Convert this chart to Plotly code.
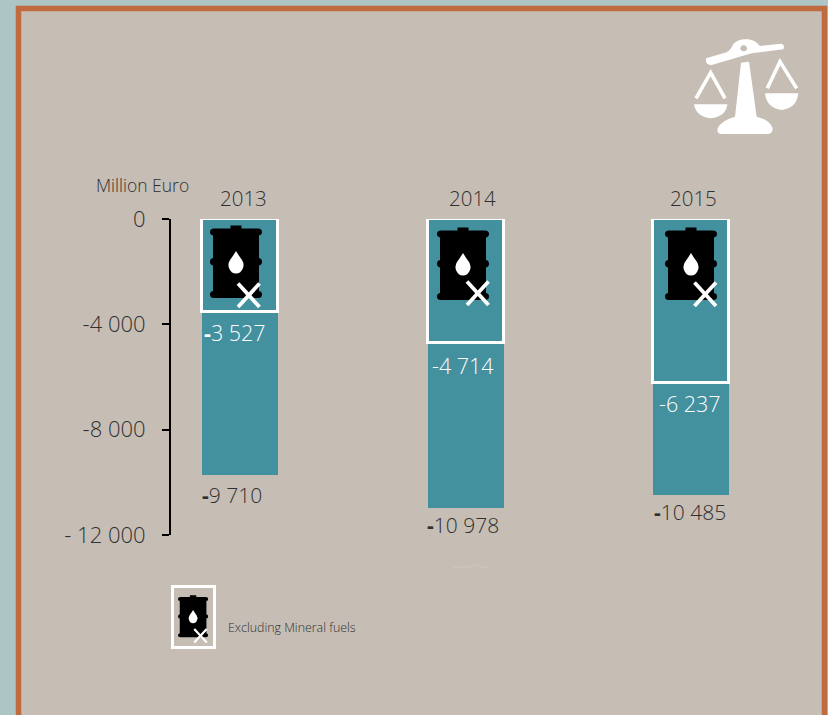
import plotly.graph_objects as go

# ---- data ----
years = ["2013", "2014", "2015"]
total_values = [-9710, -10978, -10485]
excl_mineral_values = [-3527, -4714, -6237]
total_labels = ["<b>-</b>9 710", "<b>-</b>10 978", "<b>-</b>10 485"]
excl_labels = ["<b>-</b>3 527", "-4 714", "-6 237"]
tick_values = [0, -4000, -8000, -12000]
tick_labels = ["0", "-4 000", "-8 000", "- 12 000"]
axis_title = "Million Euro"
legend_text = "Excluding Mineral fuels"

# ---- styling ----
W, H = 828, 715
L, R, T, B = 171, 828, 219, 535
TEAL = "#43909F"
BG = "#C6BEB5"
OUTER = "#AEC5C5"
ORANGE = "#BF6B3F"
INK = "#303030"
FONT = "Open Sans"


def px(x):
    return (x - L) / (R - L)


def py(y):
    return (B - y) / (B - T)


def path(cmds):
    """cmds: list of (letter, x, y, ...) in pixel coordinates -> paper path"""
    out = []
    for c in cmds:
        if len(c) == 1:
            out.append(c[0])
        else:
            pts = c[1:]
            vals = [f"{px(pts[i]):.5f},{py(pts[i + 1]):.5f}" for i in range(0, len(pts), 2)]
            out.append(c[0] + " ".join(vals))
    return " ".join(out)


shapes = []


def add_path(cmds, fill=None, line=None, lw=0, layer="above"):
    shapes.append(dict(type="path", xref="paper", yref="paper", path=path(cmds),
                       fillcolor=fill or "rgba(0,0,0,0)",
                       line=dict(color=line or "rgba(0,0,0,0)", width=lw), layer=layer))


def rect(x0, y0, x1, y1, fill=None, line=None, lw=0, layer="above"):
    add_path([("M", x0, y0), ("L", x1, y0), ("L", x1, y1), ("L", x0, y1), ("Z",)], fill, line, lw, layer)


def barrel(ox, oy, s, xdx=0, xdy=0):
    """Barrel icon, local size 52 x 73"""
    def p(l, *v):
        return (l, *[ox + a * s if i % 2 == 0 else oy + a * s for i, a in enumerate(v)])
    body = [p("M", 26 - 5.5, 3.5), p("L", 26 - 5.5, 0.5), p("L", 26 + 5.5, 0.5), p("L", 26 + 5.5, 3.5),
            p("L", 48, 3.5), p("Q", 52, 3.5, 52, 7), p("Q", 52, 10, 49, 10.5), p("L", 49, 33),
            p("Q", 52, 33.5, 52, 37), p("Q", 52, 40, 49, 40.5), p("L", 49, 66),
            p("Q", 52, 66.5, 52, 69.5), p("Q", 52, 73, 48, 73), p("L", 4, 73),
            p("Q", 0, 73, 0, 69.5), p("Q", 0, 66.5, 3, 66), p("L", 3, 40.5),
            p("Q", 0, 40, 0, 37), p("Q", 0, 33.5, 3, 33), p("L", 3, 10.5),
            p("Q", 0, 10, 0, 7), p("Q", 0, 3.5, 4, 3.5), ("Z",)]
    add_path(body, fill="#000000")
    drop = [p("M", 26, 26), p("Q", 29, 31, 32, 35), p("Q", 34.5, 39, 33, 43), p("Q", 31, 48.5, 26, 48.5),
            p("Q", 21, 48.5, 19, 43), p("Q", 17.5, 39, 20, 35), p("Q", 23, 31, 26, 26), ("Z",)]
    add_path(drop, fill="#FFFFFF")
    lw = max(1.8, 3.8 * s)
    add_path([p("M", 28 + xdx, 58.5 + xdy), p("L", 49.5 + xdx, 82 + xdy)], line="#FFFFFF", lw=lw)
    add_path([p("M", 49.5 + xdx, 58.5 + xdy), p("L", 28 + xdx, 82 + xdy)], line="#FFFFFF", lw=lw)


def scales():
    def p(l, *v):
        return (l, *[680 + a / 3 if i % 2 == 0 else 20 + a / 3 for i, a in enumerate(v)])
    W_ = "#FFFFFF"
    add_path([p("M", 78, 115), p("L", 140, 97), p("Q", 152, 90, 160, 72), p("Q", 175, 55, 205, 58),
              p("Q", 225, 60, 240, 78), p("L", 303, 71), p("Q", 316, 74, 310, 88), p("L", 215, 100),
              p("L", 95, 135), p("Q", 74, 135, 78, 115), ("Z",)], fill=W_)
    add_path([p("M", 181, 85), p("Q", 182, 76, 191, 76), p("Q", 200, 76, 201, 85),
              p("Q", 200, 94, 191, 94), p("Q", 182, 94, 181, 85), ("Z",)], fill=BG)
    add_path([p("M", 183, 128), p("L", 207, 125), p("L", 230, 290), p("Q", 270, 300, 278, 325),
              p("Q", 278, 341, 265, 342), p("L", 125, 342), p("Q", 110, 341, 113, 325),
              p("Q", 125, 300, 165, 290), ("Z",)], fill=W_)
    add_path([p("M", 262, 205), p("L", 300, 125), p("L", 350, 205)], line=W_, lw=3.6)
    add_path([p("M", 48, 235), p("L", 92, 158), p("L", 135, 235)], line=W_, lw=3.6)
    add_path([p("M", 255, 220), p("L", 355, 220), p("Q", 350, 265, 305, 270), p("Q", 260, 265, 255, 220), ("Z",)], fill=W_)
    add_path([p("M", 42, 253), p("L", 142, 253), p("Q", 138, 290, 92, 295), p("Q", 48, 290, 42, 253), ("Z",)], fill=W_)


# frame
rect(18.5, 8.5, 824.5, 760, fill=BG, line=ORANGE, lw=5.5, layer="below")

# icons in the bars
for ox, oy, xdx, xdy in [(210, 225, 0, 0), (437, 227, 2, -4), (665, 227, 1.5, -3)]:
    barrel(ox, oy, 1.0, xdx, xdy)
scales()

# legend swatch
rect(172.5, 586.5, 214.5, 647.5, line="#FFFFFF", lw=3)
barrel(178, 595, 0.58)

# faint stray outline
add_path([("M", 454, 569), ("L", 454, 567), ("L", 470, 567), ("L", 473, 565), ("L", 478, 565), ("L", 481, 567), ("L", 488, 567)],
         line="#CEC7BF", lw=1)

fig = go.Figure()
bar_width = 76 / 225.5
fig.add_trace(go.Bar(x=years, y=total_values, width=bar_width, marker=dict(color=TEAL, line=dict(width=0)),
                     showlegend=False, hoverinfo="skip", cliponaxis=False))
fig.add_trace(go.Bar(x=years, y=excl_mineral_values, width=bar_width,
                     marker=dict(color=TEAL, line=dict(color="#FFFFFF", width=3)),
                     showlegend=False, hoverinfo="skip", cliponaxis=False))

annotations = []
year_dx = [3, 7, 2]
inner_dx = [-5, -3, -1]
inner_dy = [21, 22, 20]
outer_dx = [-8, -3, -1]
outer_dy = [20, 17, 17]
for i, yr in enumerate(years):
    annotations.append(dict(x=i, y=0, text=yr, showarrow=False, xref="x", yref="y", xshift=year_dx[i], yshift=21,
                            font=dict(family=FONT, size=20.5, color=INK, weight=300)))
    annotations.append(dict(x=i, y=excl_mineral_values[i], text=excl_labels[i], showarrow=False, xshift=inner_dx[i],
                            yshift=-inner_dy[i], font=dict(family=FONT, size=21.5, color="#FFFFFF", weight=300)))
    annotations.append(dict(x=i, y=total_values[i], text=total_labels[i], showarrow=False, xshift=outer_dx[i],
                            yshift=-outer_dy[i], font=dict(family=FONT, size=21, color=INK, weight=300)))
annotations.append(dict(x=px(94), y=py(185), xref="paper", yref="paper", xanchor="left", yanchor="middle", text=axis_title,
                        showarrow=False, font=dict(family=FONT, size=17.5, color=INK, weight=300)))
annotations.append(dict(x=px(226), y=py(627), xref="paper", yref="paper", xanchor="left", yanchor="middle", text=legend_text,
                        showarrow=False, font=dict(family=FONT, size=12.4, color=INK, weight=300)))

fig.update_layout(
    width=W, height=H, autosize=False, barmode="overlay", bargap=0,
    paper_bgcolor=OUTER, plot_bgcolor="rgba(0,0,0,0)",
    margin=dict(l=L, r=W - R, t=T, b=H - B, pad=0),
    shapes=shapes, annotations=annotations, showlegend=False,
    xaxis=dict(type="category", range=[-(240 - L) / 225.5, (R - 240) / 225.5], visible=False, fixedrange=True),
    yaxis=dict(range=[-12000, 0], tickmode="array", tickvals=tick_values, ticktext=tick_labels,
               showgrid=False, zeroline=False, showline=True, linecolor="#000000", linewidth=2,
               ticks="outside", ticklen=7, tickwidth=2, tickcolor="#000000", ticklabelstandoff=12,
               tickfont=dict(family=FONT, size=22, color=INK, weight=300), fixedrange=True),
)
fig.write_html("out.html", config=dict(displayModeBar=False),
               post_script="document.body.style.margin='0';document.body.style.overflow='hidden';")
